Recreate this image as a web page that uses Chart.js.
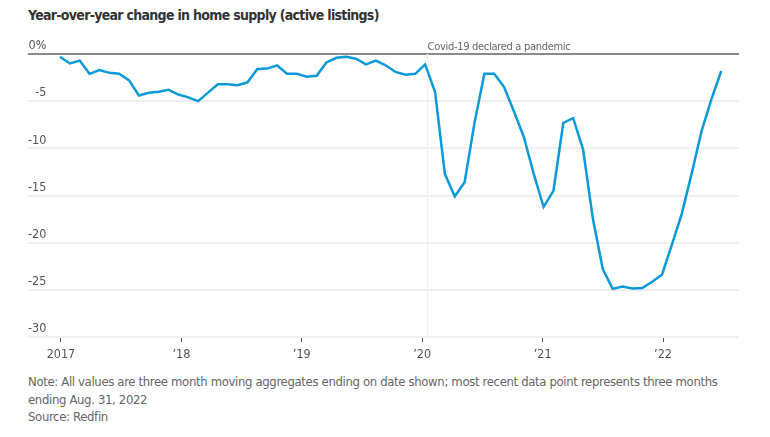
<!DOCTYPE html>
<html>
<head>
<meta charset="utf-8">
<script src="https://cdn.jsdelivr.net/npm/chart.js@4/dist/chart.umd.min.js"></script>
<style>
    body {
        margin: 0;
        width: 770px;
        height: 437px;
        background: #fff;
        font-family: "Liberation Sans Narrow", "DejaVu Sans Condensed", "Liberation Sans", sans-serif;
        position: relative;
        overflow: hidden;
    }
    #title {
        position: absolute;
        left: 28px;
        top: 5px;
        font-size: 14px;
        line-height: 20px;
        letter-spacing: -0.7px;
        font-weight: bold;
        color: #333;
        white-space: nowrap;
    }
    #chartBox {
        position: absolute;
        left: 0;
        top: 30px;
        width: 770px;
        height: 340px;
    }
    #note {
        position: absolute;
        left: 28px;
        top: 373px;
        width: 715px;
        font-size: 13px;
        letter-spacing: -0.35px;
        line-height: 17.5px;
        color: #666;
    }
</style>
</head>
<body>
<div id="title">Year-over-year change in home supply (active listings)</div>
<div id="chartBox"><canvas id="supplyChart"></canvas></div>
<div id="note">Note: All values are three month moving aggregates ending on date shown; most recent data point represents three months ending Aug. 31, 2022<br>Source: Redfin</div>

<script>
// monthly points, Jan 2017 .. Aug 2022
const supplyChange = [
    -0.3, -1.0, -0.7, -2.1, -1.7, -2.0, -2.1, -2.8, -4.4, -4.1, -4.0, -3.8,
    -4.3, -4.6, -5.0, -4.1, -3.2, -3.2, -3.3, -3.0, -1.6, -1.55, -1.2, -2.1,
    -2.1, -2.4, -2.3, -0.9, -0.4, -0.3, -0.5, -1.1, -0.7, -1.2, -1.9, -2.2,
    -2.1, -1.1, -4.0, -12.7, -15.1, -13.6, -7.3, -2.1, -2.1, -3.5, -6.1, -8.8,
    -12.7, -16.2, -14.5, -7.3, -6.8, -10.1, -17.5, -22.8, -24.9, -24.65, -24.85, -24.8,
    -24.15, -23.4, -20.2, -16.95, -12.7, -8.2, -4.8, -1.8,
];
const yearLabels = ["2017", "\u201918", "\u201919", "\u201920", "\u201921", "\u201922"];
const yTicks = [0, -5, -10, -15, -20, -25, -30];
const covidLabel = "Covid-19 declared a pandemic";
const covidPoint = 37.25;

const FONT = "'Liberation Sans Narrow', 'DejaVu Sans Condensed', 'Liberation Sans', sans-serif";
const POINTS_PER_YEAR = 12.2;

const covidMarker = {
    id: "covidMarker",
    beforeDatasetsDraw(chart) {
        const { ctx, chartArea, scales } = chart;
        const x = scales.x.getPixelForValue(covidPoint);
        ctx.save();
        ctx.strokeStyle = "#f0f0f0";
        ctx.lineWidth = 1.5;
        ctx.beginPath();
        ctx.moveTo(x, chartArea.top);
        ctx.lineTo(x, chartArea.bottom);
        ctx.stroke();
        ctx.fillStyle = "#666";
        ctx.font = "11px " + FONT;
        ctx.letterSpacing = "-0.3px";
        ctx.textAlign = "left";
        ctx.textBaseline = "alphabetic";
        ctx.fillText(covidLabel, x, chartArea.top - 4);
        ctx.restore();
    },
};

new Chart(document.getElementById("supplyChart").getContext("2d"), {
    type: "line",

    data: {
        datasets: [
            {
                data: supplyChange.map((v, i) => ({ x: i, y: v })),
                borderColor: "#0b9ad9",
                borderWidth: 2.5,
                pointRadius: 0,
                tension: 0,
                fill: false,
            },
        ],
    },

    options: {
        responsive: true,
        maintainAspectRatio: false,
        animation: false,

        layout: {
            padding: { left: 28, right: 31, top: 24, bottom: 3 },
        },

        scales: {
            x: {
                type: "linear",
                min: -3.24,
                max: 68.8,
                afterBuildTicks: (axis) => {
                    axis.ticks = yearLabels.map((_, k) => ({ value: 0.1 + k * POINTS_PER_YEAR }));
                },
                grid: {
                    drawOnChartArea: false,
                    drawTicks: true,
                    tickLength: 5,
                    color: "#555",
                    lineWidth: 1,
                },
                border: { display: false },
                ticks: {
                    autoSkip: false,
                    maxRotation: 0,
                    padding: 5,
                    color: "#555",
                    font: { family: FONT, size: 12.5 },
                    callback: (value, index) => yearLabels[index],
                },
            },

            y: {
                min: -30,
                max: 0,
                afterBuildTicks: (axis) => {
                    axis.ticks = yTicks.map((v) => ({ value: v }));
                },
                grid: {
                    drawTicks: false,
                    color: (c) => (c.tick && c.tick.value === 0 ? "#8a8a8a" : "#efefef"),
                    lineWidth: 2,
                },
                border: { display: false },
                ticks: {
                    mirror: true,
                    crossAlign: "far",
                    padding: 0,
                    labelOffset: -8,
                    color: "#555",
                    font: { family: FONT, size: 12.5 },
                    callback: (value) => (value === 0 ? "0%" : value),
                },
            },
        },

        plugins: {
            legend: { display: false },
            tooltip: { enabled: false },
        },
    },

    plugins: [covidMarker],
});
</script>
</body>
</html>
